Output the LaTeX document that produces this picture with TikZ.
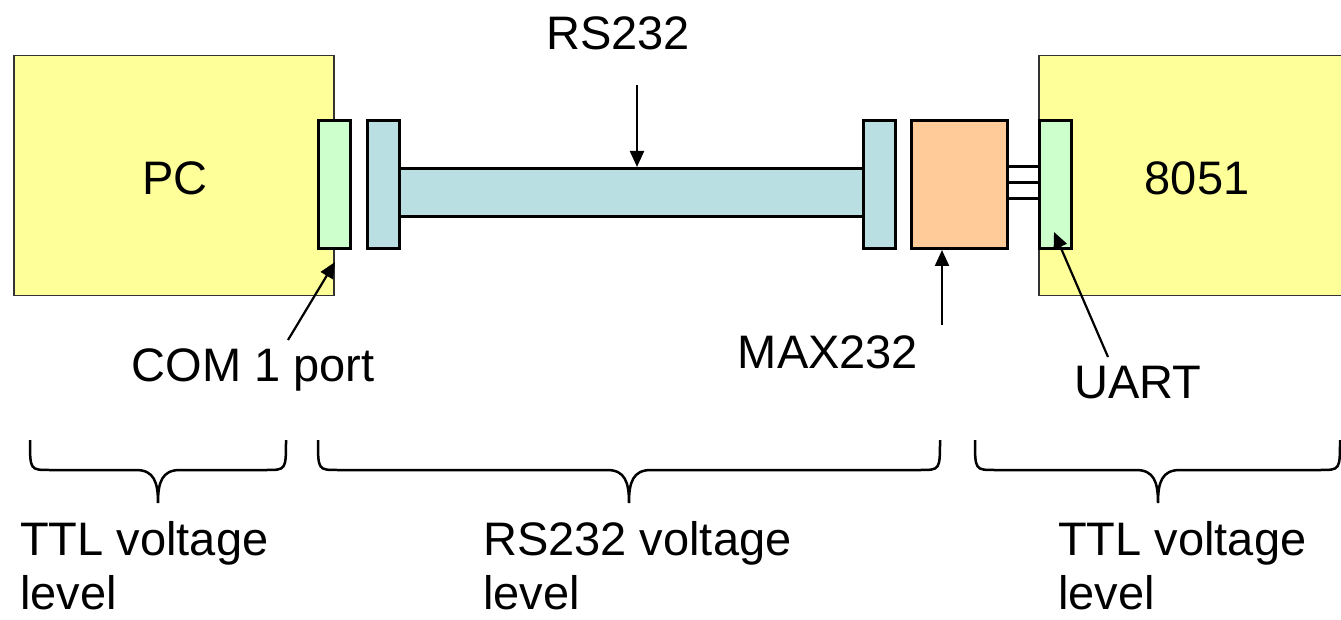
\documentclass[tikz,border=0pt]{standalone}
\usepackage{fontspec}
\setmainfont{Liberation Sans}
\usetikzlibrary{arrows.meta}
\definecolor{boardyellow}{HTML}{FFFF99}
\definecolor{portgreen}{HTML}{CCFFCC}
\definecolor{cableblue}{HTML}{B9DFE3}
\definecolor{maxorange}{HTML}{FFCC99}
\tikzset{
  board/.style={draw=black!80, line width=1.5pt, fill=boardyellow, inner sep=0pt, anchor=north west},
  part/.style={draw=black, line width=3pt, inner sep=0pt, anchor=north west},
  lbl/.style={inner sep=0pt, font=\fontsize{47}{54}\selectfont},
  arr/.style={line width=2.2pt, -{Triangle[length=16pt,width=14pt]}},
  brc/.style={line width=2.5pt},
  wire/.style={line width=3pt}
}
\begin{document}
\begin{tikzpicture}[x=1pt,y=-1pt]
\useasboundingbox (0,0) rectangle (1341,620);
% boards
\node[board, minimum width=320pt, minimum height=240pt] (pc) at (13,55) {};
\node[lbl] at (175,178) {PC};
\node[board, minimum width=305pt, minimum height=240pt] (mcu) at (1038,55) {};
\node[lbl] at (1197,178) {8051};
% ports
\node[part, fill=portgreen, minimum width=32pt, minimum height=128pt] (com) at (317,119) {};
\node[part, fill=cableblue, minimum width=32pt, minimum height=128pt] (plugL) at (366,119) {};
\node[part, fill=cableblue, minimum width=464pt, minimum height=48pt] (cable) at (398,167) {};
\node[part, fill=cableblue, minimum width=32pt, minimum height=128pt] (plugR) at (862,119) {};
\node[part, fill=maxorange, minimum width=96pt, minimum height=128pt] (max) at (910,119) {};
\node[part, fill=portgreen, minimum width=32pt, minimum height=128pt] (uart) at (1038,119) {};
% wires
\draw[wire] (max.east |- 0,167) -- (uart.west |- 0,167);
\draw[wire] (max.east |- 0,183) -- (uart.west |- 0,183);
\draw[wire] (max.east |- 0,199) -- (uart.west |- 0,199);
% labels and arrows
\node[lbl] (rs) at (618,33) {RS232};
\coordinate (rsA) at (637,85);
\draw[arr] (rsA) -- (cable.north -| rsA);
\node[lbl] (maxl) at (828,352) {MAX232};
\coordinate (maxA) at (942,325);
\draw[arr] (maxA) -- (max.south -| maxA);
\node[lbl] (coml) at (253,370) {COM 1 port};
\coordinate (comA) at (288,340);
\coordinate (comT) at (335,262);
\draw[arr] (comA) -- (comT);
\node[lbl] (uartl) at (1138,383) {UART};
\coordinate (uartA) at (1108,357);
\coordinate (uartT) at (1054,232);
\draw[arr] (uartA) -- (uartT);
% braces
\foreach \xl/\xm/\xr in {30/158/286, 318/629/940, 975/1158/1340}{
  \draw[brc] (\xl,440) .. controls (\xl,470) .. (\xl+20,470) -- (\xm-22,470)
    .. controls (\xm-4,470) and (\xm,482) .. (\xm,503)
    .. controls (\xm,482) and (\xm+4,470) .. (\xm+22,470) -- (\xr-20,470)
    .. controls (\xr,470) .. (\xr,440);
}
% bottom labels
\node[lbl, align=left, anchor=base west] (t1) at (20,609) {TTL voltage\\level};
\node[lbl, align=left, anchor=base west] (t2) at (483,609) {RS232 voltage\\level};
\node[lbl, align=left, anchor=base west] (t3) at (1058,609) {TTL voltage\\level};
\end{tikzpicture}
\end{document}
